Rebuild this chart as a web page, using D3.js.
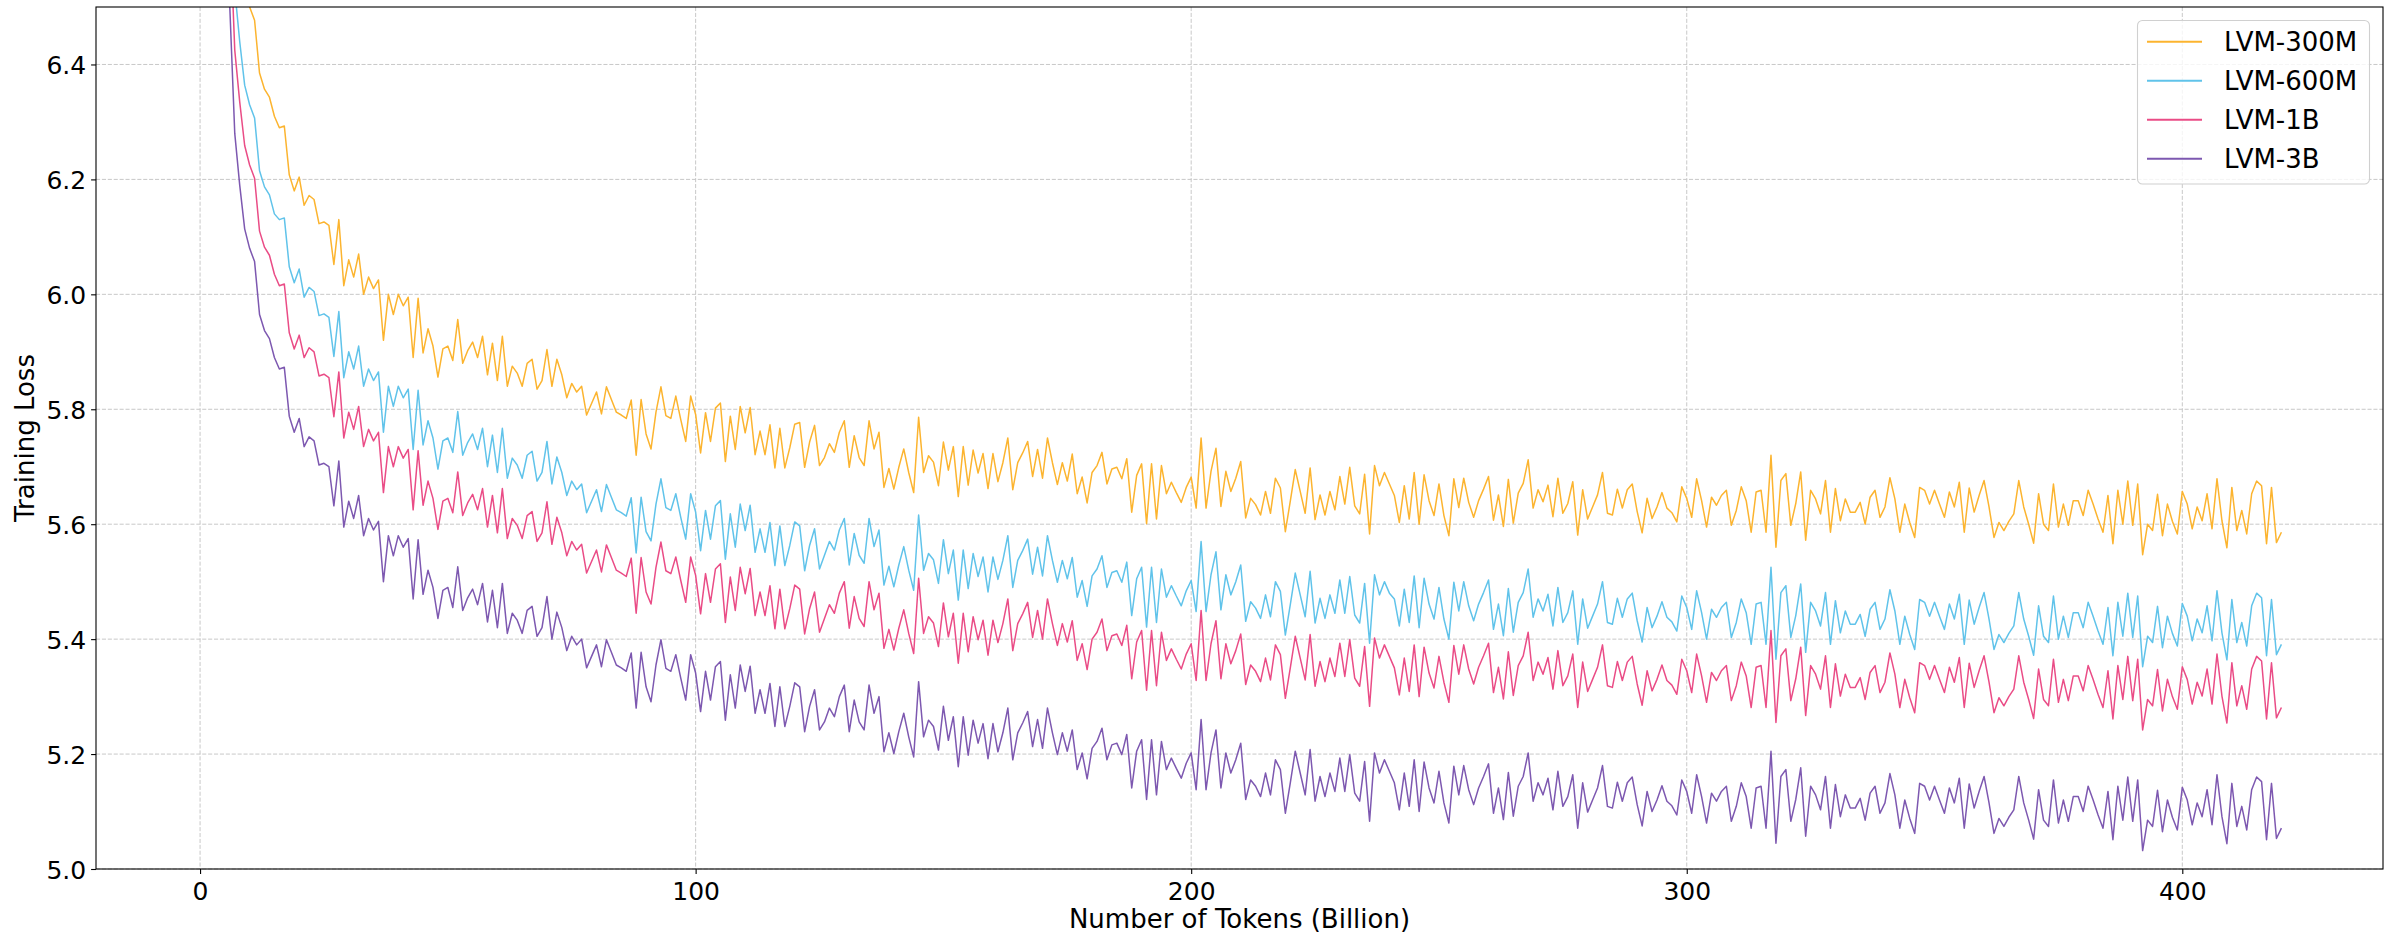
<!DOCTYPE html>
<html>
<head>
<meta charset="utf-8">
<script src="https://cdn.jsdelivr.net/npm/d3@7"></script>
<style>
  html, body { margin: 0; padding: 0; background: #ffffff; }
  svg { display: block; }
  text { font-family: "DejaVu Sans", sans-serif; fill: #000; }
</style>
</head>
<body>
<svg id="chart" width="2394" height="937"></svg>
<script>
// ---------------- data ----------------
const seriesNames = ["LVM-300M", "LVM-600M", "LVM-1B", "LVM-3B"];
const seriesColors = ["#fcb42f", "#60c3ea", "#ea4c86", "#7d58b0"];
const xTickValues = [0, 100, 200, 300, 400];
const xTickLabels = ["0", "100", "200", "300", "400"];
const yTickValues = [5.0, 5.2, 5.4, 5.6, 5.8, 6.0, 6.2, 6.4];
const yTickLabels = ["5.0", "5.2", "5.4", "5.6", "5.8", "6.0", "6.2", "6.4"];

// Number of tokens (billion), one sample per billion tokens
const tokens = d3.range(0, 421);

const loss300M = [
9.02, 8.32, 7.82, 7.47, 7.22, 7.04, 6.92, 6.70, 6.61, 6.534,
6.50, 6.477, 6.385, 6.357, 6.343, 6.31, 6.29, 6.293, 6.208, 6.18,
6.204, 6.155, 6.172, 6.165, 6.123, 6.126, 6.12, 6.052, 6.13, 6.015,
6.06, 6.03, 6.07, 6.00, 6.03, 6.01, 6.025, 5.92, 6.00, 5.965,
6.00, 5.98, 5.995, 5.89, 5.993, 5.898, 5.94, 5.91, 5.856, 5.905,
5.91, 5.885, 5.956, 5.88, 5.902, 5.917, 5.89, 5.927, 5.86, 5.915,
5.85, 5.927, 5.84, 5.875, 5.863, 5.84, 5.88, 5.887, 5.835, 5.85,
5.904, 5.84, 5.887, 5.86, 5.82, 5.845, 5.83, 5.84, 5.79, 5.81,
5.83, 5.792, 5.839, 5.817, 5.795, 5.79, 5.784, 5.816, 5.72, 5.817,
5.757, 5.731, 5.795, 5.839, 5.789, 5.784, 5.823, 5.782, 5.744, 5.823,
5.791, 5.724, 5.794, 5.744, 5.802, 5.811, 5.709, 5.788, 5.73, 5.805,
5.759, 5.803, 5.721, 5.762, 5.721, 5.773, 5.698, 5.767, 5.698, 5.733,
5.774, 5.777, 5.699, 5.743, 5.772, 5.702, 5.716, 5.74, 5.725, 5.76,
5.78, 5.699, 5.754, 5.716, 5.702, 5.78, 5.731, 5.76, 5.664, 5.697,
5.661, 5.699, 5.731, 5.69, 5.655, 5.786, 5.69, 5.719, 5.708, 5.667,
5.743, 5.694, 5.735, 5.648, 5.735, 5.668, 5.729, 5.689, 5.723, 5.662,
5.723, 5.674, 5.707, 5.75, 5.66, 5.707, 5.724, 5.744, 5.683, 5.73,
5.68, 5.75, 5.707, 5.669, 5.707, 5.675, 5.722, 5.653, 5.682, 5.637,
5.69, 5.702, 5.725, 5.67, 5.696, 5.699, 5.679, 5.714, 5.621, 5.685,
5.705, 5.601, 5.705, 5.609, 5.702, 5.653, 5.673, 5.655, 5.638, 5.664,
5.682, 5.628, 5.75, 5.628, 5.692, 5.732, 5.631, 5.692, 5.657, 5.68,
5.709, 5.611, 5.645, 5.634, 5.616, 5.657, 5.619, 5.68, 5.663, 5.587,
5.64, 5.695, 5.657, 5.619, 5.698, 5.608, 5.651, 5.616, 5.657, 5.625,
5.683, 5.635, 5.699, 5.632, 5.618, 5.687, 5.583, 5.702, 5.667, 5.69,
5.67, 5.65, 5.603, 5.667, 5.609, 5.69, 5.60, 5.686, 5.641, 5.615,
5.67, 5.615, 5.58, 5.679, 5.629, 5.68, 5.638, 5.612, 5.641, 5.661,
5.683, 5.607, 5.651, 5.596, 5.678, 5.602, 5.654, 5.671, 5.712, 5.628,
5.66, 5.639, 5.668, 5.613, 5.68, 5.619, 5.636, 5.674, 5.581, 5.66,
5.609, 5.63, 5.651, 5.69, 5.619, 5.616, 5.661, 5.628, 5.66, 5.67,
5.622, 5.585, 5.645, 5.61, 5.63, 5.655, 5.628, 5.62, 5.604, 5.665,
5.645, 5.612, 5.679, 5.641, 5.595, 5.647, 5.633, 5.65, 5.659, 5.598,
5.624, 5.665, 5.641, 5.586, 5.656, 5.659, 5.586, 5.72, 5.56, 5.676,
5.688, 5.598, 5.636, 5.691, 5.572, 5.659, 5.644, 5.618, 5.676, 5.586,
5.662, 5.606, 5.644, 5.621, 5.621, 5.638, 5.60, 5.647, 5.659, 5.612,
5.63, 5.681, 5.644, 5.586, 5.635, 5.603, 5.577, 5.664, 5.659, 5.635,
5.659, 5.635, 5.612, 5.656, 5.63, 5.673, 5.586, 5.663, 5.621, 5.65,
5.676, 5.63, 5.577, 5.603, 5.589, 5.605, 5.618, 5.676, 5.63, 5.60,
5.567, 5.653, 5.60, 5.589, 5.67, 5.595, 5.635, 5.598, 5.641, 5.641,
5.615, 5.659, 5.635, 5.609, 5.586, 5.65, 5.566, 5.659, 5.60, 5.675,
5.598, 5.67, 5.547, 5.60, 5.589, 5.652, 5.58, 5.635, 5.605, 5.583,
5.657, 5.635, 5.592, 5.63, 5.606, 5.653, 5.592, 5.679, 5.606, 5.559,
5.664, 5.589, 5.624, 5.583, 5.653, 5.675, 5.667, 5.566, 5.664, 5.568, 5.586
];

const loss600M = [
8.85, 8.15, 7.65, 7.30, 7.05, 6.87, 6.75, 6.53, 6.44, 6.364,
6.33, 6.307, 6.215, 6.187, 6.173, 6.14, 6.13, 6.133, 6.048, 6.02,
6.044, 5.995, 6.012, 6.005, 5.963, 5.966, 5.96, 5.892, 5.97, 5.855,
5.90, 5.87, 5.91, 5.84, 5.87, 5.85, 5.865, 5.76, 5.84, 5.805,
5.84, 5.82, 5.835, 5.73, 5.833, 5.738, 5.78, 5.75, 5.696, 5.745,
5.75, 5.725, 5.796, 5.72, 5.742, 5.757, 5.73, 5.767, 5.70, 5.755,
5.69, 5.767, 5.68, 5.715, 5.703, 5.68, 5.72, 5.727, 5.675, 5.69,
5.744, 5.67, 5.717, 5.69, 5.65, 5.675, 5.66, 5.67, 5.62, 5.64,
5.66, 5.622, 5.669, 5.647, 5.625, 5.62, 5.614, 5.646, 5.55, 5.647,
5.587, 5.571, 5.635, 5.679, 5.629, 5.624, 5.653, 5.612, 5.574, 5.653,
5.621, 5.554, 5.624, 5.574, 5.632, 5.641, 5.539, 5.618, 5.56, 5.635,
5.589, 5.633, 5.551, 5.592, 5.551, 5.603, 5.528, 5.597, 5.528, 5.563,
5.604, 5.597, 5.519, 5.563, 5.592, 5.522, 5.546, 5.57, 5.555, 5.59,
5.61, 5.529, 5.584, 5.546, 5.532, 5.61, 5.561, 5.59, 5.494, 5.527,
5.491, 5.529, 5.561, 5.52, 5.485, 5.616, 5.52, 5.549, 5.538, 5.497,
5.573, 5.514, 5.555, 5.468, 5.555, 5.488, 5.549, 5.509, 5.543, 5.482,
5.543, 5.504, 5.537, 5.58, 5.49, 5.537, 5.554, 5.574, 5.513, 5.56,
5.51, 5.58, 5.537, 5.499, 5.537, 5.505, 5.542, 5.473, 5.502, 5.457,
5.51, 5.522, 5.545, 5.49, 5.516, 5.519, 5.499, 5.534, 5.441, 5.505,
5.525, 5.421, 5.525, 5.429, 5.522, 5.473, 5.493, 5.475, 5.458, 5.484,
5.502, 5.448, 5.57, 5.448, 5.512, 5.552, 5.451, 5.512, 5.477, 5.50,
5.529, 5.431, 5.465, 5.454, 5.436, 5.477, 5.439, 5.50, 5.483, 5.407,
5.46, 5.515, 5.477, 5.439, 5.518, 5.428, 5.471, 5.436, 5.477, 5.445,
5.503, 5.445, 5.509, 5.442, 5.428, 5.497, 5.393, 5.512, 5.477, 5.50,
5.48, 5.47, 5.423, 5.487, 5.429, 5.51, 5.42, 5.506, 5.461, 5.435,
5.49, 5.435, 5.40, 5.499, 5.449, 5.50, 5.458, 5.432, 5.461, 5.481,
5.503, 5.417, 5.461, 5.406, 5.488, 5.412, 5.464, 5.481, 5.522, 5.438,
5.47, 5.449, 5.478, 5.423, 5.49, 5.429, 5.446, 5.484, 5.391, 5.47,
5.419, 5.44, 5.461, 5.50, 5.429, 5.426, 5.471, 5.438, 5.47, 5.48,
5.432, 5.395, 5.455, 5.42, 5.44, 5.465, 5.438, 5.43, 5.414, 5.475,
5.455, 5.417, 5.484, 5.446, 5.40, 5.452, 5.438, 5.455, 5.464, 5.403,
5.429, 5.47, 5.446, 5.391, 5.461, 5.464, 5.391, 5.525, 5.365, 5.481,
5.493, 5.403, 5.441, 5.496, 5.377, 5.464, 5.449, 5.423, 5.481, 5.391,
5.467, 5.411, 5.449, 5.426, 5.426, 5.443, 5.405, 5.452, 5.464, 5.417,
5.435, 5.486, 5.449, 5.391, 5.44, 5.408, 5.382, 5.469, 5.464, 5.44,
5.464, 5.44, 5.417, 5.461, 5.435, 5.478, 5.391, 5.468, 5.426, 5.455,
5.481, 5.435, 5.382, 5.408, 5.394, 5.41, 5.423, 5.481, 5.435, 5.405,
5.372, 5.458, 5.405, 5.394, 5.475, 5.40, 5.44, 5.403, 5.446, 5.446,
5.42, 5.464, 5.44, 5.414, 5.391, 5.455, 5.371, 5.464, 5.405, 5.48,
5.403, 5.475, 5.352, 5.405, 5.394, 5.457, 5.385, 5.44, 5.41, 5.388,
5.462, 5.44, 5.397, 5.435, 5.411, 5.458, 5.397, 5.484, 5.411, 5.364,
5.469, 5.394, 5.429, 5.388, 5.458, 5.48, 5.472, 5.371, 5.469, 5.373, 5.391
];

const loss1B = [
8.745, 8.045, 7.545, 7.195, 6.945, 6.765, 6.645, 6.425, 6.335, 6.259,
6.225, 6.202, 6.11, 6.082, 6.068, 6.035, 6.015, 6.018, 5.933, 5.905,
5.929, 5.89, 5.907, 5.90, 5.858, 5.861, 5.855, 5.787, 5.865, 5.75,
5.795, 5.765, 5.805, 5.735, 5.765, 5.745, 5.76, 5.655, 5.735, 5.70,
5.735, 5.715, 5.73, 5.625, 5.728, 5.633, 5.675, 5.645, 5.591, 5.64,
5.645, 5.62, 5.691, 5.615, 5.637, 5.652, 5.625, 5.662, 5.595, 5.65,
5.585, 5.662, 5.575, 5.61, 5.598, 5.575, 5.615, 5.622, 5.57, 5.585,
5.639, 5.565, 5.612, 5.585, 5.545, 5.57, 5.555, 5.565, 5.515, 5.535,
5.555, 5.517, 5.564, 5.542, 5.52, 5.515, 5.509, 5.541, 5.445, 5.542,
5.482, 5.461, 5.525, 5.569, 5.519, 5.514, 5.543, 5.502, 5.464, 5.543,
5.511, 5.444, 5.514, 5.464, 5.522, 5.531, 5.429, 5.508, 5.45, 5.525,
5.479, 5.523, 5.441, 5.482, 5.441, 5.493, 5.418, 5.487, 5.418, 5.453,
5.494, 5.487, 5.409, 5.453, 5.482, 5.412, 5.436, 5.46, 5.445, 5.48,
5.50, 5.419, 5.474, 5.436, 5.422, 5.50, 5.451, 5.48, 5.384, 5.417,
5.381, 5.419, 5.451, 5.41, 5.375, 5.506, 5.41, 5.439, 5.428, 5.387,
5.463, 5.404, 5.445, 5.358, 5.445, 5.378, 5.439, 5.399, 5.433, 5.372,
5.433, 5.394, 5.427, 5.47, 5.38, 5.427, 5.444, 5.464, 5.403, 5.45,
5.40, 5.47, 5.427, 5.389, 5.427, 5.395, 5.432, 5.363, 5.392, 5.347,
5.40, 5.412, 5.435, 5.38, 5.406, 5.409, 5.389, 5.424, 5.331, 5.395,
5.415, 5.311, 5.415, 5.319, 5.412, 5.363, 5.383, 5.365, 5.348, 5.374,
5.392, 5.328, 5.45, 5.328, 5.392, 5.432, 5.331, 5.392, 5.357, 5.38,
5.409, 5.321, 5.355, 5.344, 5.326, 5.367, 5.329, 5.39, 5.373, 5.297,
5.35, 5.405, 5.367, 5.329, 5.408, 5.318, 5.361, 5.326, 5.367, 5.335,
5.393, 5.335, 5.399, 5.332, 5.318, 5.387, 5.283, 5.402, 5.367, 5.39,
5.37, 5.35, 5.303, 5.367, 5.309, 5.39, 5.30, 5.386, 5.341, 5.315,
5.37, 5.325, 5.29, 5.389, 5.339, 5.39, 5.348, 5.322, 5.351, 5.371,
5.393, 5.307, 5.351, 5.296, 5.378, 5.302, 5.354, 5.371, 5.412, 5.328,
5.36, 5.339, 5.368, 5.313, 5.38, 5.319, 5.336, 5.374, 5.281, 5.36,
5.309, 5.33, 5.351, 5.39, 5.319, 5.316, 5.361, 5.328, 5.36, 5.37,
5.322, 5.285, 5.345, 5.31, 5.33, 5.355, 5.328, 5.32, 5.304, 5.365,
5.345, 5.307, 5.374, 5.336, 5.29, 5.342, 5.328, 5.345, 5.354, 5.293,
5.319, 5.36, 5.336, 5.281, 5.351, 5.354, 5.281, 5.415, 5.255, 5.371,
5.383, 5.293, 5.331, 5.386, 5.267, 5.354, 5.339, 5.313, 5.371, 5.281,
5.357, 5.301, 5.339, 5.316, 5.316, 5.333, 5.295, 5.342, 5.354, 5.307,
5.325, 5.376, 5.339, 5.281, 5.33, 5.298, 5.272, 5.359, 5.354, 5.33,
5.354, 5.33, 5.307, 5.351, 5.325, 5.368, 5.281, 5.358, 5.316, 5.345,
5.371, 5.325, 5.272, 5.298, 5.284, 5.30, 5.313, 5.371, 5.325, 5.295,
5.262, 5.348, 5.295, 5.284, 5.365, 5.29, 5.33, 5.293, 5.336, 5.336,
5.31, 5.354, 5.33, 5.304, 5.281, 5.345, 5.261, 5.354, 5.295, 5.37,
5.293, 5.365, 5.242, 5.295, 5.284, 5.347, 5.275, 5.33, 5.30, 5.278,
5.352, 5.33, 5.287, 5.325, 5.301, 5.348, 5.287, 5.374, 5.301, 5.254,
5.359, 5.284, 5.319, 5.278, 5.348, 5.37, 5.362, 5.261, 5.359, 5.263, 5.281
];

const loss3B = [
8.60, 7.90, 7.40, 7.05, 6.80, 6.62, 6.50, 6.28, 6.19, 6.114,
6.08, 6.057, 5.965, 5.937, 5.923, 5.89, 5.87, 5.873, 5.788, 5.76,
5.784, 5.735, 5.752, 5.745, 5.703, 5.706, 5.70, 5.632, 5.71, 5.595,
5.64, 5.61, 5.65, 5.58, 5.61, 5.59, 5.605, 5.50, 5.58, 5.545,
5.58, 5.56, 5.575, 5.47, 5.573, 5.478, 5.52, 5.49, 5.436, 5.485,
5.49, 5.455, 5.526, 5.45, 5.472, 5.487, 5.46, 5.497, 5.43, 5.485,
5.42, 5.497, 5.41, 5.445, 5.433, 5.41, 5.45, 5.457, 5.405, 5.42,
5.474, 5.40, 5.447, 5.42, 5.38, 5.405, 5.39, 5.40, 5.35, 5.37,
5.39, 5.352, 5.399, 5.377, 5.355, 5.35, 5.344, 5.376, 5.28, 5.377,
5.317, 5.291, 5.355, 5.399, 5.349, 5.344, 5.373, 5.332, 5.294, 5.373,
5.341, 5.274, 5.344, 5.294, 5.352, 5.361, 5.259, 5.338, 5.28, 5.355,
5.309, 5.353, 5.271, 5.312, 5.271, 5.323, 5.248, 5.317, 5.248, 5.283,
5.324, 5.317, 5.239, 5.283, 5.312, 5.242, 5.256, 5.28, 5.265, 5.30,
5.32, 5.239, 5.294, 5.256, 5.242, 5.32, 5.271, 5.30, 5.204, 5.237,
5.201, 5.239, 5.271, 5.23, 5.195, 5.326, 5.23, 5.259, 5.248, 5.207,
5.283, 5.224, 5.265, 5.178, 5.265, 5.198, 5.259, 5.219, 5.253, 5.192,
5.253, 5.204, 5.237, 5.28, 5.19, 5.237, 5.254, 5.274, 5.213, 5.26,
5.21, 5.28, 5.237, 5.199, 5.237, 5.205, 5.242, 5.173, 5.202, 5.157,
5.21, 5.222, 5.245, 5.19, 5.216, 5.219, 5.199, 5.234, 5.141, 5.205,
5.225, 5.121, 5.225, 5.129, 5.222, 5.173, 5.193, 5.175, 5.158, 5.184,
5.202, 5.138, 5.26, 5.138, 5.202, 5.242, 5.141, 5.202, 5.167, 5.19,
5.219, 5.121, 5.155, 5.144, 5.126, 5.167, 5.129, 5.19, 5.173, 5.097,
5.15, 5.205, 5.167, 5.129, 5.208, 5.118, 5.161, 5.126, 5.167, 5.135,
5.193, 5.135, 5.199, 5.132, 5.118, 5.187, 5.083, 5.202, 5.167, 5.19,
5.17, 5.15, 5.103, 5.167, 5.109, 5.19, 5.10, 5.186, 5.141, 5.115,
5.17, 5.115, 5.08, 5.179, 5.129, 5.18, 5.138, 5.112, 5.141, 5.161,
5.183, 5.097, 5.141, 5.086, 5.168, 5.092, 5.144, 5.161, 5.202, 5.118,
5.15, 5.129, 5.158, 5.103, 5.17, 5.109, 5.126, 5.164, 5.071, 5.15,
5.099, 5.12, 5.141, 5.18, 5.109, 5.106, 5.151, 5.118, 5.15, 5.16,
5.112, 5.075, 5.135, 5.10, 5.12, 5.145, 5.118, 5.11, 5.094, 5.155,
5.135, 5.097, 5.164, 5.126, 5.08, 5.132, 5.118, 5.135, 5.144, 5.083,
5.109, 5.15, 5.126, 5.071, 5.141, 5.144, 5.071, 5.205, 5.045, 5.161,
5.173, 5.083, 5.121, 5.176, 5.057, 5.144, 5.129, 5.103, 5.161, 5.071,
5.147, 5.091, 5.129, 5.106, 5.106, 5.123, 5.085, 5.132, 5.144, 5.097,
5.115, 5.166, 5.129, 5.071, 5.12, 5.088, 5.062, 5.149, 5.144, 5.12,
5.144, 5.12, 5.097, 5.141, 5.115, 5.158, 5.071, 5.148, 5.106, 5.135,
5.161, 5.115, 5.062, 5.088, 5.074, 5.09, 5.103, 5.161, 5.115, 5.085,
5.052, 5.138, 5.085, 5.074, 5.155, 5.08, 5.12, 5.083, 5.126, 5.126,
5.10, 5.144, 5.12, 5.094, 5.071, 5.135, 5.051, 5.144, 5.085, 5.16,
5.083, 5.155, 5.032, 5.085, 5.074, 5.137, 5.065, 5.12, 5.09, 5.068,
5.142, 5.12, 5.077, 5.115, 5.091, 5.138, 5.077, 5.164, 5.091, 5.044,
5.149, 5.074, 5.109, 5.068, 5.138, 5.16, 5.152, 5.051, 5.149, 5.053, 5.071
];

const seriesValues = [loss300M, loss600M, loss1B, loss3B];

// ---------------- layout ----------------
const W = 2394, H = 937;
const margin = { left: 96, right: 11, top: 7, bottom: 68 };
const plotL = margin.left, plotR = W - margin.right;
const plotT = margin.top, plotB = H - margin.bottom;

const svg = d3.select("#chart");

const x = d3.scaleLinear().domain([-21, 440.5]).range([plotL, plotR]);
const y = d3.scaleLinear().domain([5.0, 6.5]).range([plotB, plotT]);

svg.append("rect").attr("width", W).attr("height", H).attr("fill", "#ffffff");

svg.append("defs").append("clipPath").attr("id", "plotclip")
  .append("rect").attr("x", plotL).attr("y", plotT)
  .attr("width", plotR - plotL).attr("height", plotB - plotT);

// grid
const grid = svg.append("g").attr("class", "grid");
grid.selectAll("line.gx").data(xTickValues).join("line")
  .attr("x1", d => x(d)).attr("x2", d => x(d))
  .attr("y1", plotT).attr("y2", plotB)
  .attr("stroke", "#c8c8c8").attr("stroke-width", 1)
  .attr("stroke-dasharray", "4.1,1.8");
grid.selectAll("line.gy").data(yTickValues).join("line")
  .attr("x1", plotL).attr("x2", plotR)
  .attr("y1", d => y(d)).attr("y2", d => y(d))
  .attr("stroke", "#c8c8c8").attr("stroke-width", 1)
  .attr("stroke-dasharray", "4.1,1.8");

// lines
const lineGen = d3.line()
  .x((d, i) => x(tokens[i]))
  .y(d => y(d));

const linesG = svg.append("g").attr("clip-path", "url(#plotclip)");
seriesValues.forEach((vals, k) => {
  linesG.append("path")
    .datum(vals)
    .attr("fill", "none")
    .attr("stroke", seriesColors[k])
    .attr("stroke-width", 1.5)
    .attr("stroke-linejoin", "round")
    .attr("d", lineGen);
});

// axes
const fontTick = 25;
const xAxis = d3.axisBottom(x).tickValues(xTickValues)
  .tickFormat((d, i) => xTickLabels[i]).tickSize(4.9).tickPadding(4.9);
const yAxis = d3.axisLeft(y).tickValues(yTickValues)
  .tickFormat((d, i) => yTickLabels[i]).tickSize(4.9).tickPadding(4.9);

const gx = svg.append("g").attr("transform", `translate(0,${plotB})`).call(xAxis);
const gy = svg.append("g").attr("transform", `translate(${plotL},0)`).call(yAxis);
[gx, gy].forEach(g => {
  g.select(".domain").remove();
  g.selectAll(".tick line").attr("stroke", "#000").attr("stroke-width", 1.1);
  g.selectAll(".tick text")
    .attr("font-family", "DejaVu Sans")
    .attr("font-size", fontTick)
    .attr("fill", "#000");
});
gx.selectAll(".tick text").attr("dy", null).attr("y", 31);
gy.selectAll(".tick text").attr("dy", null).attr("x", -9.8).attr("y", 9.1);

// spines
svg.append("rect")
  .attr("x", plotL).attr("y", plotT)
  .attr("width", plotR - plotL).attr("height", plotB - plotT)
  .attr("fill", "none").attr("stroke", "#000").attr("stroke-width", 1.1);

// axis labels
svg.append("text")
  .attr("x", (plotL + plotR) / 2).attr("y", 928)
  .attr("text-anchor", "middle")
  .attr("font-size", 26)
  .text("Number of Tokens (Billion)");

svg.append("text")
  .attr("transform", `translate(34,${(plotT + plotB) / 2}) rotate(-90)`)
  .attr("text-anchor", "middle")
  .attr("font-size", 26)
  .text("Training Loss");

// legend
const legend = svg.append("g");
legend.append("rect")
  .attr("x", 2137.5).attr("y", 20.5)
  .attr("width", 232).attr("height", 163.5)
  .attr("rx", 5).attr("ry", 5)
  .attr("fill", "#ffffff").attr("fill-opacity", 0.8)
  .attr("stroke", "#d0d0d0").attr("stroke-width", 1.1);
const legendY = [41.7, 80.7, 119.7, 158.7];
seriesNames.forEach((name, k) => {
  legend.append("line")
    .attr("x1", 2147).attr("x2", 2202)
    .attr("y1", legendY[k]).attr("y2", legendY[k])
    .attr("stroke", seriesColors[k]).attr("stroke-width", 2);
  legend.append("text")
    .attr("x", 2224).attr("y", legendY[k] + 9.5)
    .attr("font-size", 26)
    .text(name);
});
</script>
</body>
</html>
